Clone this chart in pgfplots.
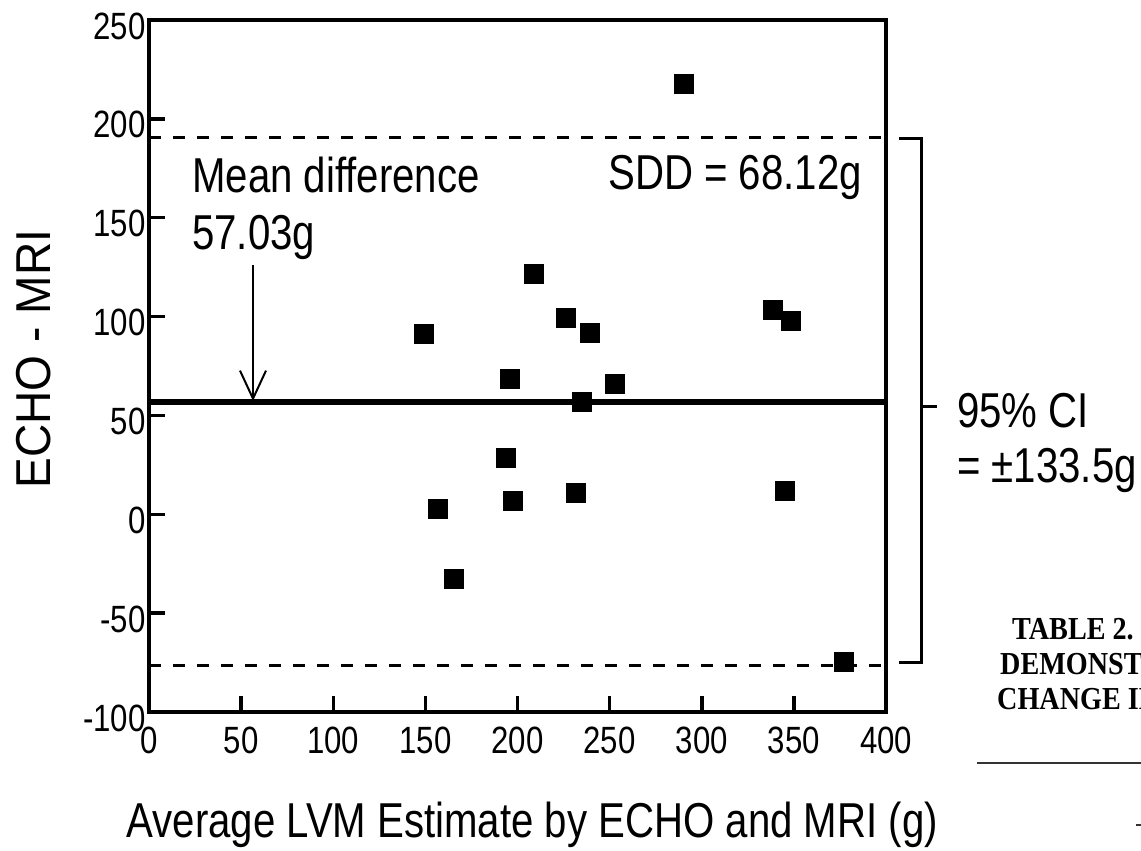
\documentclass[border=0pt]{standalone}
\usepackage{pgfplots}
\pgfplotsset{compat=1.18}
\usepackage{fontspec}
\setmainfont{Liberation Sans}[FakeStretch=0.82]
\newfontfamily\ylabfont{Liberation Sans}[FakeStretch=0.94]
\newfontfamily\tabfont{Liberation Serif}[FakeStretch=0.88]
\usetikzlibrary{arrows.meta}
\begin{document}
\begin{tikzpicture}[x=1pt,y=1pt]
\useasboundingbox (0,0) rectangle (1141,851);
\begin{axis}[
  at={(149pt,139pt)}, anchor=south west,
  scale only axis, width=737pt, height=692pt,
  xmin=0, xmax=400, ymin=-100, ymax=250,
  xtick={0,50,...,400}, ytick={-100,-50,...,250},
  tick pos=left, tick align=inside,
  major tick length=16pt,
  axis line style={line width=3.5pt},
  every tick/.style={line width=3.5pt, black},
  ticklabel style={font=\fontsize{38}{40}\selectfont},
  /pgf/number format/assume math mode=true,
  yticklabel style={yshift=-6pt},
  xticklabel style={yshift=-11pt},
  xlabel={Average LVM Estimate by ECHO and MRI (g)},
  ylabel={ECHO - MRI},
  every axis x label/.style={at={(axis description cs:0.52,0)}, anchor=base, yshift=-126pt, font=\fontsize{49}{52}\selectfont},
  every axis y label/.style={at={(axis description cs:-0.1343,0.51)}, rotate=90, anchor=base, font=\ylabfont\fontsize{49}{52}\selectfont},
]
\addplot[black, line width=6pt] coordinates {(0,57.03) (400,57.03)};
\addplot[black, line width=3.5pt, dash pattern=on 12pt off 12pt] coordinates {(0,190.53) (400,190.53)};
\addplot[black, line width=3.5pt, dash pattern=on 12pt off 12pt] coordinates {(0,-76.47) (400,-76.47)};
\addplot[only marks, mark=square*, mark size=9.5pt, mark options={fill=black, draw=black, line width=0.6pt}] coordinates {
(148.9,91.4) (208.6,121.4) (226.1,99.6) (239.4,91.7) (195.8,68.6) (234.8,56.8) (252.9,65.8)
(193.8,28.5) (197.7,6.6) (156.5,2.9) (231.8,11.0) (165.2,-32.5)
(290.0,217.8) (338.3,103.2) (348.3,98.1) (345.2,12.1) (377.2,-74.7)
};
\end{axis}
% annotations
\node[anchor=base west, inner sep=0, font=\fontsize{49}{52}\selectfont] at (192,658) {Mean difference};
\node[anchor=base west, inner sep=0, font=\fontsize{49}{52}\selectfont] at (192,601) {57.03g};
\node[anchor=base east, inner sep=0, font=\fontsize{49}{52}\selectfont] at (862,661) {SDD = 68.12g};
\draw[line width=2pt, -{Straight Barb[length=28pt,width=26pt,line width=2pt]}] (253,586) -- (253,450);
\draw[line width=3pt] (899,712) -- (921,712) -- (921,188) -- (899,188);
\draw[line width=3pt] (921,444) -- (937,444);
\node[anchor=base west, inner sep=0, font=\fontsize{49}{52}\selectfont] at (957,423) {95\% CI};
\node[anchor=base west, inner sep=0, font=\fontsize{49}{52}\selectfont] at (957,368) {= ±133.5g};
% neighbouring page fragment
\node[anchor=base west, inner sep=0, font=\tabfont\bfseries\fontsize{32}{34}\selectfont] at (1012,211) {TABLE 2.};
\node[anchor=base west, inner sep=0, font=\tabfont\bfseries\fontsize{32}{34}\selectfont] at (1000,176) {DEMONSTRATED};
\node[anchor=base west, inner sep=0, font=\tabfont\bfseries\fontsize{32}{34}\selectfont] at (997,141) {CHANGE IN};
\draw[line width=2pt, black!80] (977,88) -- (1141,88);
\draw[line width=1.5pt, black!80] (1136,26) -- (1141,26);
\end{tikzpicture}
\end{document}
